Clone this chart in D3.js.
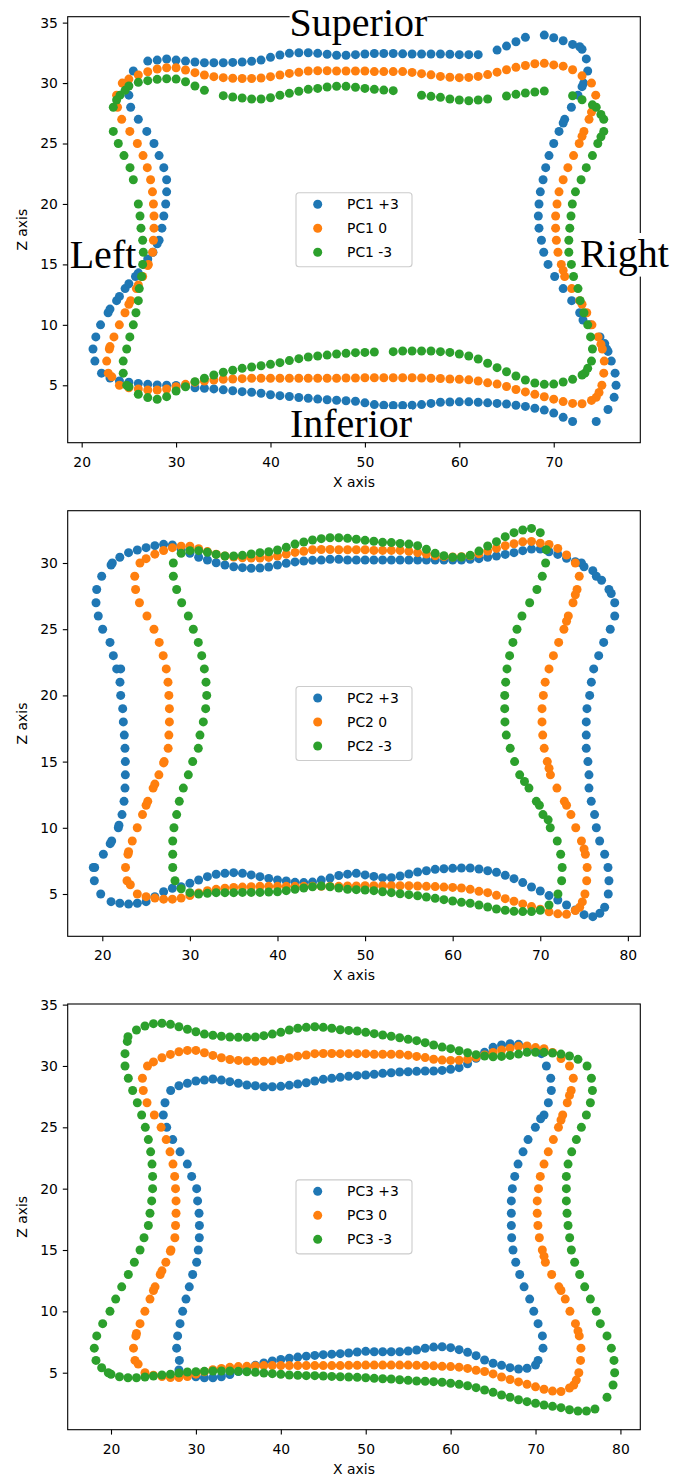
<!DOCTYPE html>
<html>
<head>
<meta charset="utf-8">
<script src="https://cdn.jsdelivr.net/npm/d3@7"></script>
<style>
  body { margin: 0; background: #fff; }
  svg { display: block; }
</style>
</head>
<body>
<svg id="fig" width="673" height="1479"></svg>
<script>
// Outline shapes sampled on a unit grid.
// top / bottom: z of the outline at x = from, from+1, ...
// left / right: x of the outline at z = from, from+1, ...
// extra: further [x, z] samples where the outline runs diagonally.
// null = no sample on that grid line.

// Mean outline (score 0 on every component)
const meanShape = {
  top:    { from: 25, z: [30.33,30.67,30.94,31.16,31.27,31.27,31.08,30.86,30.67,30.53,30.45,30.4,30.38,30.38,30.42,30.53,30.67,30.8,30.89,31.0,31.02,31.02,31.0,31.0,31.0,31.0,30.95,30.95,30.95,30.95,30.88,30.78,30.68,30.55,30.48,30.45,30.47,30.55,30.7,30.9,31.1,31.3,31.45,31.6,31.63,31.5,31.4,31.1,30.6] },
  bottom: { from: 25, z: [4.8,4.69,4.61,4.61,4.69,4.88,5.08,5.25,5.35,5.44,5.5,5.52,5.55,5.58,5.58,5.58,5.58,5.58,5.58,5.58,5.58,5.58,5.58,5.6,5.6,5.62,5.62,5.62,5.62,5.62,5.62,5.6,5.58,5.56,5.52,5.5,5.45,5.35,5.2,5.1,4.9,4.65,4.45,4.25,4.05,3.85,3.65,3.5,3.47,3.75] },
  left:   { from: 5,  x: [24.0,22.82,22.65,22.93,23.42,23.99,24.59,25.19,25.8,26.46,27.06,27.52,27.6,27.66,27.66,27.6,27.5,27.3,26.95,26.5,25.9,25.1,24.24,23.8,23.7,24.3] },
  right:  { from: 4,  x: [74.5,75.1,75.3,75.35,75.15,74.7,74.05,73.5,72.75,71.9,71.16,70.8,70.45,70.28,70.2,70.2,70.35,70.56,71.0,71.5,72.1,72.7,73.2,73.74,74.2,74.45,74.0] },
  extra:  [[23.2,5.7],[23,8.2],[25,11.7],[26,13.3],[27,14.9],[74.8,4.4],[75,8.4],[73,11.7],[71,14.5],[73,25.6],[74,27.6]]
};

// PC1 = +3
const pc1Plus = {
  top:    { from: 27, z: [31.82,31.9,31.99,31.9,31.82,31.74,31.68,31.68,31.68,31.71,31.74,31.8,31.9,32.13,32.32,32.46,32.51,32.51,32.46,32.38,32.3,32.3,32.35,32.4,32.45,32.45,32.45,32.42,32.4,32.4,32.4,32.4,32.38,32.35,32.35,32.35,null,32.73,33.06,33.42,33.78,null,33.97,33.75,33.5,33.2,32.8] },
  bottom: { from: 23, z: [5.6,5.35,5.25,5.15,5.08,5.02,5.0,4.98,4.95,4.8,4.75,4.7,4.62,4.55,4.47,4.42,4.34,4.22,4.14,4.07,3.99,3.93,3.86,3.8,3.76,3.72,3.68,3.55,3.4,3.35,3.33,3.33,3.35,3.4,3.5,3.6,3.62,3.63,3.63,3.6,3.55,3.5,3.45,3.35,3.25,3.1,2.95,2.7,2.35,2.0] },
  left:   { from: 6,  x: [22.1,21.4,21.2,21.5,22.0,22.8,23.7,24.6,25.7,26.6,27.55,28.2,28.5,28.7,28.9,29.0,29.0,28.7,28.2,27.66,26.9,26.0,25.19,25.0,24.8,25.47] },
  right:  { from: 2,  x: [74.5,75.75,76.4,76.6,76.5,76.1,75.6,74.9,73.85,72.75,71.9,71.0,70.1,69.4,68.94,68.7,68.44,68.37,68.44,68.58,68.87,69.15,69.5,70.0,70.56,71.16,71.87,72.57,73.17,73.6,73.45,72.75] },
  extra:  [[23,11.3],[24,12.35],[25,13.4],[26,14.3],[27,15.45],[28,16.7],[73.1,10.4],[75.4,8.45],[75.75,7.8],[71,26.7],[73,29.7]]
};

// PC1 = -3
const pc1Minus = {
  top:    { from: 25, z: [29.76,30.06,30.2,30.31,30.36,30.33,30.11,29.76,29.4,null,28.96,28.85,28.76,28.68,28.68,28.79,28.99,29.15,29.32,29.48,29.56,29.67,29.74,29.73,29.65,29.56,29.48,29.42,29.37,null,null,28.99,28.9,28.82,28.68,28.6,28.54,28.6,28.68,null,28.93,29.07,29.18,29.26,29.34,null,null,28.95,28.62] },
  bottom: { from: 25, z: [4.88,4.26,3.98,3.84,4.06,4.53,4.88,5.3,5.58,5.85,6.08,6.24,6.4,6.51,6.62,6.73,6.87,7.04,7.2,7.34,7.42,7.5,7.59,7.64,7.7,7.72,7.75,null,7.78,7.84,7.84,7.84,7.84,7.78,7.72,7.59,7.42,7.17,6.82,6.46,6.12,5.77,5.44,5.19,5.08,5.1,5.27,5.49,5.85] },
  left:   { from: 5,  x: [24.77,24.4,24.4,24.77,25.1,25.47,25.75,26.0,26.1,26.35,26.46,26.53,26.46,26.28,26.18,26.0,null,25.47,25.12,24.48,23.88,23.35,null,23.35,24.06] },
  right:  { from: 6,  x: [73.3,74.0,74.1,73.9,73.6,73.2,72.8,72.57,72.1,71.87,71.6,71.6,71.7,71.83,71.97,72.3,72.9,73.45,74.1,74.67,75.3,75.3,74.5] },
  extra:  [[23.7,28.6],[24.6,29.4],[74.1,28.2],[75.0,27.4],[75,25.55],[73.6,6.4]]
};

// PC2 = +3
const pc2Plus = {
  top:    { from: 21, z: [29.85,30.43,30.78,30.98,31.16,31.31,31.41,31.36,31.03,30.73,30.43,30.23,30.02,29.85,29.72,29.65,29.6,29.62,29.7,29.85,29.98,30.08,30.15,30.2,30.22,30.28,30.28,30.23,30.23,30.23,30.23,30.23,30.23,30.23,30.23,30.23,30.23,30.23,30.23,30.23,30.23,30.28,30.33,30.43,30.53,30.65,30.78,30.93,31.06,31.06,30.85,30.65,30.35,30.1,29.72,29.42] },
  bottom: { from: 21, z: [4.42,4.3,4.24,4.3,4.42,4.8,5.17,5.43,5.55,5.81,6.06,6.31,6.49,6.56,6.61,6.56,6.44,6.31,6.18,6.06,5.98,5.88,5.86,5.9,6.05,6.2,6.4,6.5,6.56,6.44,6.33,6.23,6.23,6.36,6.51,6.66,6.76,6.86,6.91,6.94,6.96,6.96,6.89,6.76,6.64,6.41,6.16,5.86,5.53,5.23,4.88,4.55,4.17,3.79,3.44,3.29] },
  left:   { from: 5,  x: [19.82,19.09,19.13,20.12,21.07,21.83,22.25,22.48,22.59,22.63,22.63,22.59,22.51,22.4,22.33,22.1,22.02,21.64,21.26,20.88,20.04,19.54,19.28,19.36,19.93,21.14] },
  right:  { from: 4,  x: [77.35,77.76,77.84,77.73,77.35,76.78,76.4,76.2,75.82,75.56,75.56,75.44,75.25,75.25,75.25,75.33,75.64,75.83,76.1,76.67,77.24,77.99,78.5,78.5,77.84,76.4,74.7] },
  extra:  [[18.97,7.0],[20.9,8.8],[21.9,10.2],[22.1,22.0],[76.8,3.55],[77.0,28.7],[78.1,27.7]]
};

// PC2 = -3
const pc2Minus = {
  top:    { from: 29, z: [30.73,30.93,30.93,30.81,30.65,30.53,30.53,30.58,30.68,30.78,30.85,30.98,31.18,31.43,31.59,31.74,31.84,31.91,31.91,31.86,31.79,31.71,31.64,31.56,31.54,31.48,31.43,31.31,31.03,30.73,30.55,30.43,30.45,30.58,30.9,31.28,31.61,31.99,32.29,32.49,32.61,32.29] },
  bottom: { from: 29, z: [5.4,5.1,5.0,5.05,5.1,5.1,5.1,5.12,5.12,5.12,5.15,5.17,5.25,5.35,5.45,5.55,5.6,5.55,5.45,5.35,5.33,5.3,5.25,5.17,5.1,5.02,4.95,4.87,4.77,4.67,4.57,4.47,4.37,4.3,4.17,4.02,3.87,3.77,3.69,3.67,3.67,3.77,4.17] },
  left:   { from: 6,  x: [28.3,28.04,28.04,28.04,28.18,28.49,28.79,29.25,29.82,30.32,30.96,31.15,31.53,31.8,31.92,31.84,31.65,31.35,30.96,30.39,29.82,29.06,28.49,28.11,28.11] },
  right:  { from: 5,  x: [72.02,72.44,72.5,72.33,71.94,71.14,70.31,69.55,68.71,67.65,67.07,66.57,66.12,65.97,65.94,65.94,66.05,66.2,66.5,66.88,67.34,67.91,68.79,69.62,70.23,70.61,70.69] },
  extra:  [[68.2,13.5],[69.9,11.7],[70.9,10.6]]
};

// PC3 = +3
const pc3Plus = {
  top:    { from: 28, z: [28.39,28.59,28.77,28.85,28.94,28.85,28.72,28.59,28.45,28.39,28.31,28.31,28.34,28.42,28.53,28.63,28.77,28.91,28.99,29.07,29.16,29.21,29.26,29.32,29.4,29.45,29.51,29.53,29.56,29.59,29.59,29.64,29.73,29.86,30.18,30.62,31.11,31.52,31.71,31.82,31.76,31.57,31.3] },
  bottom: { from: 28, z: [5.22,4.87,4.67,4.59,4.59,4.67,4.85,5.1,5.35,5.6,5.8,5.95,6.08,6.18,6.27,6.35,6.41,6.47,6.51,6.55,6.61,6.69,6.74,6.71,6.71,6.71,6.71,6.77,6.85,6.99,7.09,7.12,7.04,6.88,6.66,6.39,6.04,5.77,5.6,5.41,5.3,5.36,5.63] },
  left:   { from: 6,  x: [28.05,27.73,27.85,28.13,28.44,28.83,29.22,29.62,30.09,30.28,30.4,30.41,30.37,30.2,30.09,29.5,28.99,28.13,27.27,26.56,26.16,26.36,27.03] },
  right:  { from: 6,  x: [70.3,70.88,70.81,70.3,69.79,69.31,68.65,68.14,67.67,67.35,67.19,67.15,67.15,67.15,67.27,67.55,67.94,68.53,69.12,69.98,71.0,71.51,71.86,71.79,71.28,70.69] },
  extra:  [[70.6,25.7]]
};

// PC3 = -3
const pc3Minus = {
  top:    { from: 22, z: [32.38,32.93,33.26,33.45,33.48,33.39,33.2,32.99,32.79,32.6,32.5,32.42,32.36,32.33,32.33,32.36,32.47,32.6,32.74,32.93,33.07,33.15,33.2,33.15,33.07,32.95,32.9,32.85,32.74,32.63,32.52,32.42,32.3,32.17,32.06,31.9,31.71,31.54,31.41,31.24,31.08,30.92,30.81,30.75,30.78,30.86,30.97,31.11,31.11,31.11,31.05,30.97,30.81,30.54] },
  bottom: { from: 20, z: [4.87,4.67,4.59,4.59,4.65,4.73,4.81,4.87,4.98,5.06,5.08,5.11,5.14,5.14,5.14,5.11,5.08,5.03,4.98,4.92,4.87,4.81,4.79,4.76,4.76,4.73,4.7,4.67,4.65,4.62,4.59,4.54,4.51,4.49,4.43,4.38,4.32,4.3,4.27,4.22,4.14,4.05,3.94,3.78,3.59,3.4,3.18,3.0,2.8,2.64,2.51,2.37,2.26,2.15,1.98,1.88,1.88,2.04] },
  left:   { from: 5,  x: [19.68,18.23,18.03,18.32,19.02,19.88,20.55,21.26,22.04,22.75,23.42,23.89,24.4,24.59,24.79,24.9,24.9,24.83,24.67,24.4,24.04,23.61,23.1,22.55,22.04,21.65,21.65,21.92] },
  right:  { from: 3,  x: [78.42,79.13,79.32,79.24,78.93,78.42,77.63,77.16,76.46,75.79,75.2,74.61,74.22,74.02,73.83,73.71,73.63,73.63,73.63,73.83,74.26,74.81,75.4,75.99,76.46,76.7,76.58,76.07] },
  extra:  [[18.9,5.4]]
};

const pc1Labels = ["PC1 +3", "PC1 0", "PC1 -3"];
const pc2Labels = ["PC2 +3", "PC2 0", "PC2 -3"];
const pc3Labels = ["PC3 +3", "PC3 0", "PC3 -3"];

const xTicks1 = [20, 30, 40, 50, 60, 70];
const zTicks1 = [5, 10, 15, 20, 25, 30, 35];
const xTicks2 = [20, 30, 40, 50, 60, 70, 80];
const zTicks2 = [5, 10, 15, 20, 25, 30];
const xTicks3 = [20, 30, 40, 50, 60, 70, 80];
const zTicks3 = [5, 10, 15, 20, 25, 30, 35];

const regionNames = ["Superior", "Left", "Right", "Inferior"];

const seriesColors = ["#1f77b4", "#ff7f0e", "#2ca02c"];

// ---------------------------------------------------------------------------

function shapePoints(s) {
  const pts = [];
  s.top.z.forEach((v, i) => { if (v != null) pts.push([s.top.from + i, v]); });
  s.right.x.forEach((v, i) => { if (v != null) pts.push([v, s.right.from + i]); });
  s.bottom.z.forEach((v, i) => { if (v != null) pts.push([s.bottom.from + i, v]); });
  s.left.x.forEach((v, i) => { if (v != null) pts.push([v, s.left.from + i]); });
  (s.extra || []).forEach(p => pts.push(p));
  return pts;
}

const svg = d3.select("#fig");
const FONT = "'DejaVu Sans', sans-serif";
const AX_LEFT = 67.7, AX_RIGHT = 640.3;
const DOT_R = 4.5;

const panels = [
  { top: 16.7,  bottom: 442.7,  xDomain: [18.52, 79.17], zDomain: [0.25, 35.49],
    xTicks: xTicks1, zTicks: zTicks1, labels: pc1Labels, shapes: [pc1Plus, meanShape, pc1Minus] },
  { top: 510.7, bottom: 936.3,  xDomain: [16.05, 81.42], zDomain: [1.805, 33.95],
    xTicks: xTicks2, zTicks: zTicks2, labels: pc2Labels, shapes: [pc2Plus, meanShape, pc2Minus] },
  { top: 1004,  bottom: 1429.7, xDomain: [14.9, 82.34], zDomain: [0.355, 35.05],
    xTicks: xTicks3, zTicks: zTicks3, labels: pc3Labels, shapes: [pc3Plus, meanShape, pc3Minus] }
];

panels.forEach(p => {
  const x = d3.scaleLinear().domain(p.xDomain).range([AX_LEFT, AX_RIGHT]);
  const z = d3.scaleLinear().domain(p.zDomain).range([p.bottom, p.top]);
  const g = svg.append("g");

  // scatter series
  p.shapes.forEach((shape, si) => {
    g.append("g")
      .selectAll("circle")
      .data(shapePoints(shape))
      .join("circle")
      .attr("cx", d => x(d[0]))
      .attr("cy", d => z(d[1]))
      .attr("r", DOT_R)
      .attr("fill", seriesColors[si]);
  });

  // frame
  g.append("rect")
    .attr("x", AX_LEFT).attr("y", p.top)
    .attr("width", AX_RIGHT - AX_LEFT).attr("height", p.bottom - p.top)
    .attr("fill", "none").attr("stroke", "#000").attr("stroke-width", 1.1);

  // x axis
  const xa = g.append("g").attr("transform", `translate(0,${p.bottom})`)
    .call(d3.axisBottom(x).tickValues(p.xTicks).tickSize(4.9).tickPadding(4.9).tickSizeOuter(0));
  xa.select(".domain").remove();
  xa.selectAll(".tick line").attr("stroke", "#000").attr("stroke-width", 1.1);
  xa.selectAll(".tick text").attr("y", 24).attr("dy", null)
    .attr("font-family", FONT).attr("font-size", 13.9).attr("fill", "#000");

  // z axis
  const za = g.append("g").attr("transform", `translate(${AX_LEFT},0)`)
    .call(d3.axisLeft(z).tickValues(p.zTicks).tickSize(4.9).tickPadding(4.9).tickSizeOuter(0));
  za.select(".domain").remove();
  za.selectAll(".tick line").attr("stroke", "#000").attr("stroke-width", 1.1);
  za.selectAll(".tick text").attr("font-family", FONT).attr("font-size", 13.9).attr("fill", "#000");

  // axis titles
  g.append("text")
    .attr("x", (AX_LEFT + AX_RIGHT) / 2).attr("y", p.bottom + 44)
    .attr("text-anchor", "middle").attr("font-family", FONT).attr("font-size", 13.9)
    .text("X axis");
  g.append("text")
    .attr("transform", `translate(26.5,${(p.top + p.bottom) / 2}) rotate(-90)`)
    .attr("text-anchor", "middle").attr("font-family", FONT).attr("font-size", 13.9)
    .text("Z axis");

  // legend, centred in the axes
  const lw = 116, lh = 74;
  const lx = (AX_LEFT + AX_RIGHT) / 2 - lw / 2;
  const ly = (p.top + p.bottom) / 2 - lh / 2;
  const leg = g.append("g").attr("transform", `translate(${lx},${ly})`);
  leg.append("rect").attr("x", 0).attr("y", 0).attr("width", lw).attr("height", lh)
    .attr("rx", 3).attr("fill", "#fff").attr("fill-opacity", 0.8)
    .attr("stroke", "#cccccc").attr("stroke-width", 1.1);
  p.labels.forEach((lab, i) => {
    const cy = 11.5 + i * 24;
    leg.append("circle").attr("cx", 21.7).attr("cy", cy).attr("r", DOT_R).attr("fill", seriesColors[i]);
    leg.append("text").attr("x", 51).attr("y", cy + 5)
      .attr("font-family", FONT).attr("font-size", 13.9).attr("fill", "#000").text(lab);
  });
});

// region names on the first panel, each on a white box sized to its glyphs
const SERIF = "'Liberation Serif', 'Times New Roman', serif";
const NOTE_SIZE = 40;
const notes = [
  { text: regionNames[0], x: 358.5, y: 35.8,  up: 0.89, down: 0.22 },
  { text: regionNames[1], x: 103,   y: 268.3, up: 0.85, down: 0.03 },
  { text: regionNames[2], x: 624.5, y: 267,   up: 0.85, down: 0.24 },
  { text: regionNames[3], x: 351,   y: 436.7, up: 0.69, down: 0.02 }
];
notes.forEach(n => {
  const ng = svg.append("g");
  const bg = ng.append("rect").attr("fill", "#fff");
  const t = ng.append("text").attr("x", n.x).attr("y", n.y)
    .attr("text-anchor", "middle")
    .attr("font-family", SERIF)
    .attr("font-size", NOTE_SIZE).attr("fill", "#000").text(n.text);
  const b = t.node().getBBox();
  const top = Math.max(0, n.y - n.up * NOTE_SIZE);
  bg.attr("x", b.x).attr("y", top)
    .attr("width", b.width).attr("height", n.y + n.down * NOTE_SIZE - top);
});
</script>
</body>
</html>
